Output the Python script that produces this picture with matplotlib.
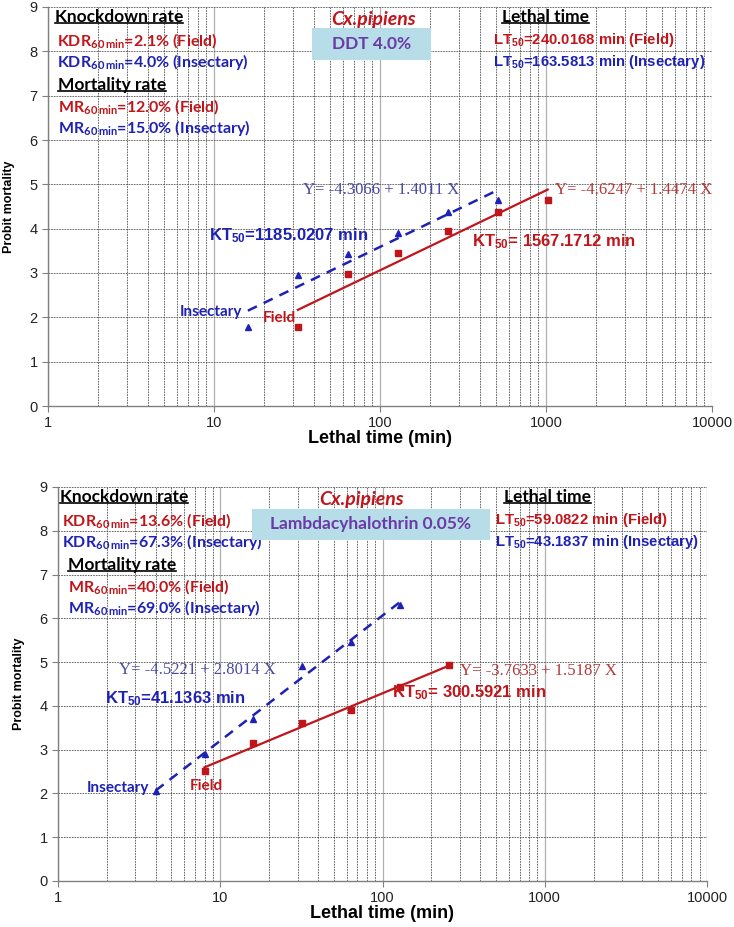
import numpy as np
import matplotlib
matplotlib.use("Agg")
import matplotlib.pyplot as plt
from matplotlib.lines import Line2D
from matplotlib.patches import Rectangle
from matplotlib.ticker import FixedLocator, NullFormatter, FixedFormatter

plt.rcParams['mathtext.fontset'] = 'custom'
plt.rcParams['mathtext.rm'] = 'Lato'
plt.rcParams['mathtext.bf'] = 'Lato:bold'
plt.rcParams['mathtext.it'] = 'Lato:italic'
plt.rcParams['mathtext.sf'] = 'Liberation Sans:bold'

# ---------------- data ----------------
# Panel 1: DDT 4.0%
ddt_field_t = [32, 64, 128, 256, 512, 1024]
ddt_field_p = [1.78, 2.97, 3.45, 3.94, 4.37, 4.64]
ddt_insect_t = [16, 32, 64, 128, 256, 512]
ddt_insect_p = [1.78, 2.95, 3.42, 3.90, 4.37, 4.64]

# Panel 2: Lambdacyhalothrin 0.05%
lam_field_t = [8, 16, 32, 64, 128, 256]
lam_field_p = [2.52, 3.15, 3.60, 3.90, 4.43, 4.94]
lam_insect_t = [4, 8, 16, 32, 64, 128]
lam_insect_p = [2.05, 2.90, 3.70, 4.90, 5.46, 6.30]

x_ticks = [1, 10, 100, 1000, 10000]
x_tick_labels = ['1', '10', '100', '1000', '10000']
y_ticks = list(range(0, 10))

RED = '#c0151b'
BLUE = '#1e22b4'
EQ_BLUE = '#4a4aa0'
EQ_RED = '#b23a3a'
PURPLE = '#6a3aa6'
BOXC = '#b7dde8'

W, H = 734, 927
fig = plt.figure(figsize=(W / 100, H / 100), dpi=100)


def axes_px(x0, x1, ytop, ybot):
    return fig.add_axes([x0 / W, 1 - ybot / H, (x1 - x0) / W, (ybot - ytop) / H])


def ftext(x, y, s, **kw):
    kw.setdefault('va', 'center')
    kw.setdefault('ha', 'left')
    return fig.text(x / W, 1 - y / H, s, **kw)


underlined = []


def style_axes(ax):
    ax.set_xscale('log')
    ax.set_xlim(1, 10000)
    ax.set_ylim(0, 9)
    ax.xaxis.set_major_locator(FixedLocator(x_ticks))
    ax.xaxis.set_major_formatter(FixedFormatter(x_tick_labels))
    minors = [m * 10 ** d for d in range(4) for m in range(2, 10)]
    ax.xaxis.set_minor_locator(FixedLocator(minors))
    ax.xaxis.set_minor_formatter(NullFormatter())
    ax.set_yticks(y_ticks)
    ax.tick_params(axis='x', which='minor', length=0)
    ax.tick_params(axis='both', which='major', length=4, color='#808080',
                   labelsize=10.5, labelcolor='#222222')
    for lab in ax.get_xticklabels() + ax.get_yticklabels():
        lab.set_family('Liberation Sans')
    ax.grid(which='major', axis='x', color='#b0b0b0', ls='-', lw=0.9)
    ax.grid(which='minor', axis='x', color='#505050', ls=(0, (2, 1.2)), lw=0.6)
    ax.grid(which='major', axis='y', color='#505050', ls=(0, (2, 1.2)), lw=0.6)
    ax.set_axisbelow(True)
    for sp in ['top', 'right']:
        ax.spines[sp].set_visible(False)
    for sp in ['left', 'bottom']:
        ax.spines[sp].set_color('#808080')
        ax.spines[sp].set_linewidth(1.0)
    ax.set_xlabel('Lethal time (min)', family='Liberation Sans',
                  fontweight='bold', fontsize=13, labelpad=0)
    ax.set_ylabel('Probit mortality', family='Liberation Sans', fontweight='bold',
                  fontsize=9, labelpad=10)


def draw_series(ax, t, p, color, marker, ls, lw):
    ax.plot(t, p, ls='none', marker=marker, color=color, ms=5, mec=color, zorder=4)
    lx = np.log10(t)
    slope, icpt = np.polyfit(lx, p, 1)
    xs = np.array([lx[0], lx[-1]])
    ax.plot(10 ** xs, icpt + slope * xs, color=color, ls=ls, lw=lw, zorder=3)


# ---------------- panel 1 ----------------
ax1 = axes_px(48, 712, 7, 406)
style_axes(ax1)
draw_series(ax1, ddt_field_t, ddt_field_p, RED, 's', '-', 1.6)
draw_series(ax1, ddt_insect_t, ddt_insect_p, BLUE, '^', (0, (4, 3)), 1.8)

# ---------------- panel 2 ----------------
ax2 = axes_px(58, 707, 487, 881)
style_axes(ax2)
draw_series(ax2, lam_field_t, lam_field_p, RED, 's', '-', 1.6)
draw_series(ax2, lam_insect_t, lam_insect_p, BLUE, '^', (0, (4, 3)), 1.8)

CAL = 'Lato'
ARI = 'Liberation Sans'
TIM = 'Liberation Serif'


def info_block(dy, lx, kdr_f, kdr_i, mr_f, mr_i, mx, species_x, box, boxtxt,
               ltx, lt_f, lt_i):
    t = ftext(lx - 2, 17 + dy, 'Knockdown rate', family=CAL, fontweight='bold', fontsize=12.5)
    underlined.append(t)
    ftext(lx, 41 + dy, r'KDR$_{\mathbf{60\,min}}$=' + kdr_f + ' (Field)', family=CAL,
          fontweight='bold', fontsize=11.5, color=RED)
    ftext(lx, 62 + dy, r'KDR$_{\mathbf{60\,min}}$=' + kdr_i + ' (Insectary)', family=CAL,
          fontweight='bold', fontsize=11.5, color=BLUE)
    t = ftext(mx, 85 + dy, 'Mortality rate', family=CAL, fontweight='bold', fontsize=12.5)
    underlined.append(t)
    ftext(mx, 107 + dy, r'MR$_{\mathbf{60\,min}}$=' + mr_f + ' (Field)', family=CAL,
          fontweight='bold', fontsize=11.5, color=RED)
    ftext(mx, 128 + dy, r'MR$_{\mathbf{60\,min}}$=' + mr_i + ' (Insectary)', family=CAL,
          fontweight='bold', fontsize=11.5, color=BLUE)
    ftext(species_x, 19 + dy, 'Cx.pipiens', family=CAL, fontweight='bold', style='italic',
          fontsize=14, color=RED, ha='center')
    bx0, bx1, by0, by1 = box
    fig.add_artist(Rectangle((bx0 / W, 1 - by1 / H), (bx1 - bx0) / W, (by1 - by0) / H,
                             transform=fig.transFigure, facecolor=BOXC, edgecolor='none',
                             zorder=5))
    ftext((bx0 + bx1) / 2, (by0 + by1) / 2, boxtxt, family=CAL, fontweight='bold',
          fontsize=12.5, color=PURPLE, ha='center', zorder=6)
    t = ftext(ltx + 9, 17 + dy, 'Lethal time', family=CAL, fontweight='bold', fontsize=12.5)
    underlined.append(t)
    ftext(ltx, 40 + dy, r'LT$_{\mathsf{50}}$=' + lt_f + ' min (Field)', family=ARI,
          fontweight='bold', fontsize=10.7, color=RED)
    ftext(ltx, 62 + dy, r'LT$_{\mathsf{50}}$=' + lt_i + ' min (Insectary)', family=ARI,
          fontweight='bold', fontsize=10.7, color=BLUE)


info_block(0, 57, '2.1%', '4.0%', '12.0%', '15.0%', 58, 374, (312, 431, 28, 60),
           'DDT 4.0%', 493, '240.0168', '163.5813')
info_block(480, 62, '13.6%', '67.3%', '40.0%', '69.0%', 68, 362, (252, 490, 509, 540),
           'Lambdacyhalothrin 0.05%', 495, '59.0822', '43.1837')

# panel 1 annotations
ftext(303, 190, 'Y= -4.3066 + 1.4011 X', family=TIM, fontsize=12, color=EQ_BLUE)
ftext(555, 190, 'Y= -4.6247 + 1.4474 X', family=TIM, fontsize=12, color=EQ_RED)
ftext(209, 236, r'KT$_{\mathsf{50}}$=1185.0207 min', family=ARI, fontweight='bold',
      fontsize=12, color=BLUE)
ftext(472, 242, r'KT$_{\mathsf{50}}$= 1567.1712 min', family=ARI, fontweight='bold',
      fontsize=12, color=RED)
ftext(242, 312, 'Insectary', family=CAL, fontweight='bold', fontsize=11, color=BLUE, ha='right')
ftext(263, 318, 'Field', family=CAL, fontweight='bold', fontsize=11, color=RED)

# panel 2 annotations
ftext(119, 670, 'Y= -4.5221 + 2.8014 X', family=TIM, fontsize=12, color=EQ_BLUE)
ftext(460, 671, 'Y= -3.7633 + 1.5187 X', family=TIM, fontsize=12, color=EQ_RED)
ftext(105, 699, r'KT$_{\mathsf{50}}$=41.1363 min', family=ARI, fontweight='bold',
      fontsize=12, color=BLUE)
ftext(392, 693, r'KT$_{\mathsf{50}}$= 300.5921 min', family=ARI, fontweight='bold',
      fontsize=12, color=RED)
ftext(149, 788, 'Insectary', family=CAL, fontweight='bold', fontsize=11, color=BLUE, ha='right')
ftext(190, 786, 'Field', family=CAL, fontweight='bold', fontsize=11, color=RED)

# underline headings
fig.canvas.draw()
r = fig.canvas.get_renderer()
for t in underlined:
    bb = t.get_window_extent(r)
    yl = bb.y0 + 2.5
    fig.add_artist(Line2D([bb.x0 / W, bb.x1 / W], [yl / H, yl / H],
                          transform=fig.transFigure, color='black', lw=1.2))

fig.savefig('out.png', dpi=100)
